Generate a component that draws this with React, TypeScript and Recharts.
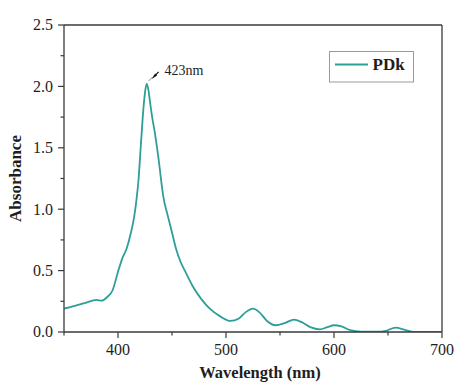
import React from 'react';
import { LineChart, Line, XAxis, YAxis, Legend, ReferenceDot, ReferenceLine, Label } from 'recharts';

const wavelengths = [
  350, 360, 370, 380, 385, 390, 395, 400, 404, 408, 412, 415, 417, 419, 421, 423, 425, 426.5, 428, 430,
  432, 434, 436, 438, 440, 442, 446, 450, 454, 458, 463, 470, 477, 485, 495, 504, 512, 518, 525, 531,
  538, 546, 555, 563, 570, 578, 587, 594, 600, 607, 615, 625, 640, 648, 657, 665, 674, 690, 700,
];
const absorbance = [
  0.19, 0.212, 0.238, 0.262, 0.255, 0.285, 0.34, 0.49, 0.6, 0.68, 0.81, 0.94, 1.07, 1.24, 1.5, 1.76, 1.95, 2.02, 1.98, 1.85,
  1.73, 1.63, 1.51, 1.38, 1.23, 1.1, 0.95, 0.81, 0.67, 0.57, 0.48, 0.36, 0.27, 0.19, 0.125, 0.09, 0.11, 0.16, 0.19, 0.16,
  0.09, 0.055, 0.075, 0.1, 0.08, 0.04, 0.022, 0.04, 0.055, 0.045, 0.015, 0.003, 0.002, 0.01, 0.036, 0.02, 0.0, 0.0, 0.0,
];
const xTicks = [350, 400, 450, 500, 550, 600, 650, 700];
const xLabeled = [400, 500, 600, 700];
const yTicks = [0, 0.25, 0.5, 0.75, 1.0, 1.25, 1.5, 1.75, 2.0, 2.25, 2.5];
const yLabeled = [0, 0.5, 1.0, 1.5, 2.0, 2.5];
const xDomain = [350, 700];
const yDomain = [0, 2.5];
const seriesName = 'PDk';
const peakLabel = '423nm';
const xTitle = 'Wavelength (nm)';
const yTitle = 'Absorbance';

const data = wavelengths.map((nm, i) => ({ nm, abs: absorbance[i] }));
const peakIndex = absorbance.indexOf(Math.max(...absorbance));
const peak = data[peakIndex];

const AXIS = '#3a3a3a';
const TEXT = '#1e1e1e';
const LINE = '#2E9E98';
const FONT = '"Liberation Serif", "Times New Roman", serif';

const XTick = (props: any) => {
  const { x, y, payload } = props;
  const v = payload.value;
  const major = xLabeled.includes(v);
  return (
    <g>
      <line x1={x} x2={x} y1={y} y2={y + (major ? 6 : 3.5)} stroke={AXIS} strokeWidth={1.2} />
      {major && (
        <text x={x} y={y + 22.5} textAnchor="middle" fontFamily={FONT} fontSize={16} fill={TEXT}>
          {v}
        </text>
      )}
    </g>
  );
};

const YTick = (props: any) => {
  const { x, y, payload } = props;
  const v = payload.value;
  const major = yLabeled.some((m) => Math.abs(m - v) < 1e-9);
  return (
    <g>
      <line x1={x} x2={x - (major ? 6 : 3.5)} y1={y} y2={y} stroke={AXIS} strokeWidth={1.2} />
      {major && (
        <text x={x - 11} y={y + 5.3} textAnchor="end" fontFamily={FONT} fontSize={16} fill={TEXT}>
          {v.toFixed(1)}
        </text>
      )}
    </g>
  );
};

const XTitle = (props: any) => {
  const vb = props.viewBox;
  return (
    <text x={vb.x + vb.width / 2 + 7} y={vb.y + 46} textAnchor="middle" fontFamily={FONT} fontWeight="bold" fontSize={16.5} fill={TEXT}>
      {xTitle}
    </text>
  );
};

const YTitle = (props: any) => {
  const vb = props.viewBox;
  const cx = 21;
  const cy = vb.y + vb.height / 2;
  return (
    <text x={cx} y={cy} transform={`rotate(-90 ${cx} ${cy})`} textAnchor="middle" fontFamily={FONT} fontWeight="bold" fontSize={17} fill={TEXT}>
      {yTitle}
    </text>
  );
};

const PeakMark = (props: any) => {
  const { cx, cy } = props;
  if (cx == null || cy == null) return null;
  return (
    <g>
      <line x1={cx + 2} y1={cy - 3} x2={cx + 6} y2={cy - 7} stroke="#777" strokeWidth={0.9} />
      <polygon
        points={`${cx + 5},${cy - 5} ${cx + 10.5},${cy - 8.5} ${cx + 8.5},${cy - 10.5}`}
        fill="#111"
      />
      <line x1={cx + 9} y1={cy - 9} x2={cx + 12} y2={cy - 12} stroke="#111" strokeWidth={1.2} />
      <text x={cx + 18} y={cy - 8.5} fontFamily={FONT} fontSize={14} fill={TEXT}>
        {peakLabel}
      </text>
    </g>
  );
};

const LegendBox = (props: any) => {
  const item = props.payload && props.payload[0];
  const name = item ? item.value : seriesName;
  const color = item ? item.color : LINE;
  return (
    <svg width={85} height={32} style={{ display: 'block' }}>
      <rect x={0.5} y={0.5} width={84} height={30.5} fill="#fff" stroke="#9a9a9a" strokeWidth={1} />
      <line x1={6} x2={39} y1={13.5} y2={13.5} stroke={color} strokeWidth={1.8} />
      <text x={43.5} y={18.7} fontFamily={FONT} fontWeight="bold" fontSize={17} fill={TEXT}>
        {name}
      </text>
    </svg>
  );
};

export default function App() {
  return (
    <div style={{ position: 'absolute', left: 0, top: 0, width: 458, height: 383, background: '#fff' }}>
      <LineChart width={458} height={383} data={data} margin={{ top: 25, right: 16, bottom: 21, left: 0 }}>
        <XAxis
          dataKey="nm"
          type="number"
          domain={xDomain}
          ticks={xTicks}
          tickSize={0}
          tickMargin={0}
          tickLine={false}
          tick={<XTick />}
          axisLine={{ stroke: AXIS, strokeWidth: 1.3 }}
          height={30}
          allowDataOverflow
        >
          <Label content={<XTitle />} />
        </XAxis>
        <YAxis
          type="number"
          domain={yDomain}
          ticks={yTicks}
          tickSize={0}
          tickMargin={0}
          tickLine={false}
          tick={<YTick />}
          axisLine={{ stroke: AXIS, strokeWidth: 1.3 }}
          width={64}
          allowDataOverflow
          interval={0}
        >
          <Label content={<YTitle />} />
        </YAxis>
        <ReferenceLine y={yDomain[1]} stroke={AXIS} strokeWidth={1.3} ifOverflow="visible" />
        <ReferenceLine x={xDomain[1]} stroke={AXIS} strokeWidth={1.3} ifOverflow="visible" />
        <Legend
          verticalAlign="middle"
          align="center"
          layout="horizontal"
          wrapperStyle={{ left: 329, top: 51, width: 85, height: 32 }}
          content={<LegendBox />}
        />
        <Line
          dataKey="abs"
          name={seriesName}
          type="monotone"
          stroke={LINE}
          strokeWidth={1.8}
          dot={false}
          isAnimationActive={false}
        />
        <ReferenceDot x={peak.nm} y={peak.abs} r={0} shape={<PeakMark />} />
      </LineChart>
    </div>
  );
}
